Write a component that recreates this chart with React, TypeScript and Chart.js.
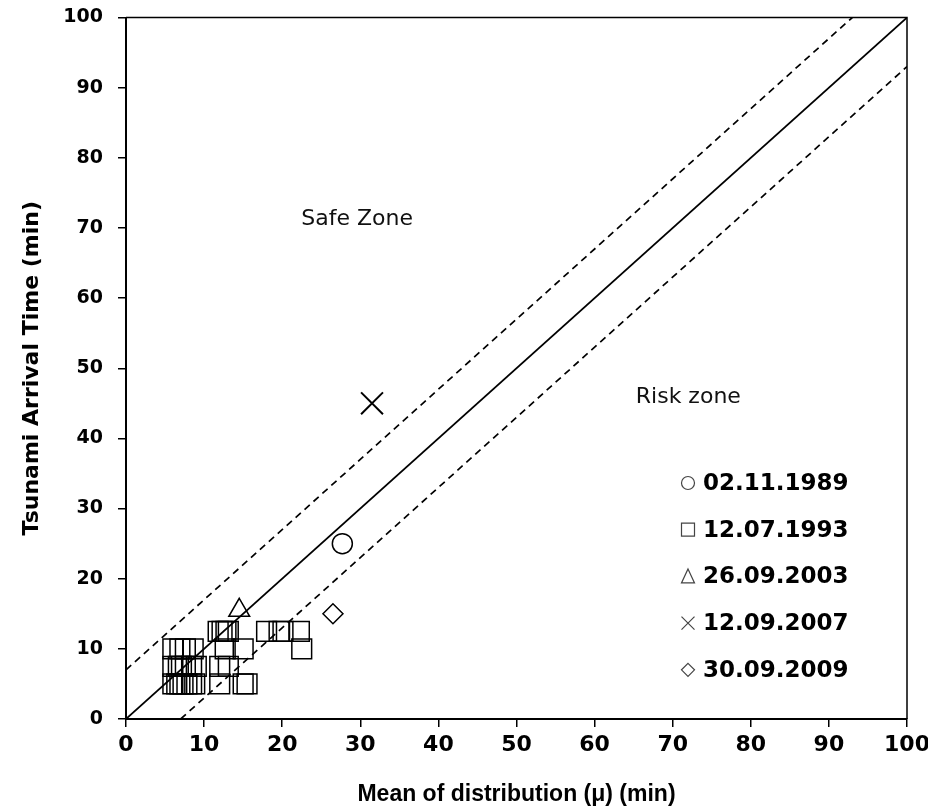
import { useEffect, useRef } from "react";
import { Chart, registerables } from "chart.js";

Chart.register(...registerables);

// Observed events: [mean of distribution μ (min), tsunami arrival time (min)]
const event1989: [number, number][] = [[27.7, 25]];
const event1993: [number, number][] = [
  // arrival 5 min
  [6.0, 5], [6.5, 5], [6.9, 5], [7.3, 5], [7.8, 5], [8.4, 5], [8.8, 5], [12.0, 5], [15.0, 5], [15.5, 5],
  // arrival 7.5 min
  [6.0, 7.5], [6.7, 7.5], [7.1, 7.5], [7.6, 7.5], [8.4, 7.5], [9.0, 7.5], [12.0, 7.5], [13.1, 7.5],
  // arrival 10 min
  [6.0, 10], [6.9, 10], [7.6, 10], [8.6, 10], [12.7, 10], [15.0, 10], [22.5, 10],
  // arrival 12.5 min
  [11.8, 12.5], [12.3, 12.5], [12.8, 12.5], [13.1, 12.5], [18.0, 12.5], [19.6, 12.5], [20.1, 12.5], [22.2, 12.5],
];
const event2003: [number, number][] = [[14.5, 15.5]];
const event2007: [number, number][] = [[31.5, 45]];
const event2009: [number, number][] = [[26.5, 15]];

// Reference lines: equality and ±7 min band
const equalityLine: [number, number][] = [[0, 0], [100, 100]];
const upperBand: [number, number][] = [[0, 7], [93, 100]];
const lowerBand: [number, number][] = [[7, 0], [100, 93]];

const eventLabels = ["02.11.1989", "12.07.1993", "26.09.2003", "12.09.2007", "30.09.2009"];
const eventStyles = ["circle", "rect", "triangle", "crossRot", "rectRot"];

const zoneLabels = [
  { text: "Safe Zone", x: 29.6, y: 71.3 },
  { text: "Risk zone", x: 72, y: 45.8 },
];

const toPoints = (arr: [number, number][]) => arr.map(([x, y]) => ({ x, y }));

const markerDataset = (label: string, data: [number, number][], pointStyle: string, radius: number, width = 1.5) => ({
  type: "scatter" as const,
  label,
  data: toPoints(data),
  pointStyle,
  pointRadius: radius,
  pointBorderColor: "#000",
  pointBackgroundColor: "rgba(0,0,0,0)",
  pointBorderWidth: width,
  borderColor: "#000",
  backgroundColor: "rgba(0,0,0,0)",
  showLine: false,
});

const lineDataset = (label: string, data: [number, number][], dash: number[]) => ({
  type: "line" as const,
  label,
  data: toPoints(data),
  borderColor: "#000",
  borderWidth: 1.7,
  borderDash: dash,
  pointRadius: 0,
  showLine: true,
  fill: false,
});

// Frame (top and right edges), zone captions and the event key
const decorations = {
  id: "decorations",
  afterDatasetsDraw(chart: any) {
    const { ctx, chartArea, scales } = chart;
    const { left, right, top, bottom } = chartArea;
    ctx.save();
    ctx.strokeStyle = "#000";
    ctx.lineWidth = 1.5;
    ctx.beginPath();
    ctx.moveTo(left, top);
    ctx.lineTo(right, top);
    ctx.lineTo(right, bottom);
    ctx.stroke();

    ctx.fillStyle = "#111";
    ctx.font = "22px 'DejaVu Sans'";
    ctx.textAlign = "center";
    ctx.textBaseline = "middle";
    for (const z of zoneLabels) {
      ctx.fillText(z.text, scales.x.getPixelForValue(z.x), scales.y.getPixelForValue(z.y));
    }

    const symX = right - 219;
    const textX = right - 204;
    const firstY = bottom - 236;
    const step = 46.7;
    ctx.textAlign = "left";
    ctx.font = "bold 23px 'DejaVu Sans'";
    eventLabels.forEach((label, i) => {
      const cy = firstY + i * step;
      const s = 6.5;
      ctx.strokeStyle = "#444";
      ctx.lineWidth = 1.2;
      ctx.beginPath();
      switch (eventStyles[i]) {
        case "circle":
          ctx.arc(symX, cy, s, 0, Math.PI * 2);
          break;
        case "rect":
          ctx.rect(symX - s, cy - s, 2 * s, 2 * s);
          break;
        case "triangle":
          ctx.moveTo(symX, cy - s - 1);
          ctx.lineTo(symX + s, cy + s);
          ctx.lineTo(symX - s, cy + s);
          ctx.closePath();
          break;
        case "crossRot":
          ctx.moveTo(symX - s, cy - s);
          ctx.lineTo(symX + s, cy + s);
          ctx.moveTo(symX + s, cy - s);
          ctx.lineTo(symX - s, cy + s);
          break;
        case "rectRot":
          ctx.moveTo(symX, cy - s);
          ctx.lineTo(symX + s, cy);
          ctx.lineTo(symX, cy + s);
          ctx.lineTo(symX - s, cy);
          ctx.closePath();
          break;
      }
      ctx.stroke();
      ctx.fillStyle = "#000";
      ctx.fillText(label, textX, cy + 1);
    });
    ctx.restore();
  },
};

export default function App() {
  const canvasRef = useRef<HTMLCanvasElement | null>(null);

  useEffect(() => {
    const canvas = canvasRef.current;
    if (!canvas) return;
    const chart = new Chart(canvas, {
      type: "scatter",
      data: {
        datasets: [
          lineDataset("1:1", equalityLine, []),
          lineDataset("+7", upperBand, [7, 5]),
          lineDataset("-7", lowerBand, [7, 5]),
          markerDataset(eventLabels[0], event1989, "circle", 10),
          markerDataset(eventLabels[1], event1993, "rect", 14),
          markerDataset(eventLabels[2], event2003, "triangle", 12),
          markerDataset(eventLabels[3], event2007, "crossRot", 15.5, 2),
          markerDataset(eventLabels[4], event2009, "rectRot", 10),
        ] as any,
      },
      options: {
        animation: false,
        responsive: false,
        events: [],
        layout: { padding: { top: 16, right: 21, left: 0, bottom: 0 } },
        plugins: {
          legend: { display: false },
          tooltip: { enabled: false },
        },
        scales: {
          x: {
            type: "linear",
            min: 0,
            max: 100,
            ticks: {
              stepSize: 10,
              color: "#000",
              padding: 5,
              font: { family: "'DejaVu Sans'", weight: "bold", size: 22 },
            },
            grid: { drawOnChartArea: false, drawTicks: true, tickLength: 8, color: "#000", lineWidth: 1.5 },
            border: { color: "#000", width: 2 },
            title: {
              display: true,
              text: "Mean of distribution (μ) (min)",
              color: "#000",
              font: { family: "'Liberation Sans'", weight: "bold", size: 23 },
              padding: { top: 4, bottom: 4 },
            },
            afterFit(scale: any) {
              scale.height = 93;
              scale.paddingLeft = 0;
              scale.paddingRight = 0;
            },
          },
          y: {
            type: "linear",
            min: 0,
            max: 100,
            ticks: {
              stepSize: 10,
              color: "#000",
              padding: 15,
              font: { family: "'DejaVu Sans'", weight: "bold", size: 19 },
            },
            grid: { drawOnChartArea: false, drawTicks: true, tickLength: 8, color: "#000", lineWidth: 1.5 },
            border: { color: "#000", width: 2 },
            title: {
              display: true,
              text: "Tsunami Arrival Time (min)",
              color: "#000",
              font: { family: "'DejaVu Sans'", weight: "bold", size: 22 },
              padding: { top: 19, bottom: 19 },
            },
            afterFit(scale: any) {
              scale.width = 126;
              scale.paddingTop = 0;
              scale.paddingBottom = 0;
            },
          },
        },
      } as any,
      plugins: [decorations],
    });
    return () => chart.destroy();
  }, []);

  return (
    <div style={{ position: "fixed", left: 0, top: 0, width: 928, height: 812, background: "#fff" }}>
      <canvas ref={canvasRef} width={928} height={812} style={{ width: 928, height: 812 }} />
    </div>
  );
}
